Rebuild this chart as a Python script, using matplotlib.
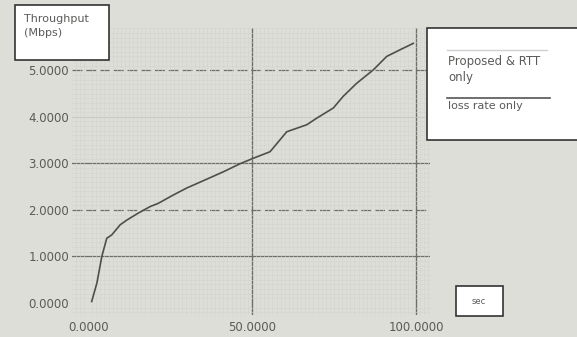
import matplotlib.pyplot as plt
from matplotlib.patches import Rectangle
from matplotlib.lines import Line2D
from matplotlib.ticker import MultipleLocator

# throughput curve (sec, Mbps)
time_sec = [1.1, 2.7, 4.2, 5.7, 7.2, 9.8, 11.8, 15.3, 18.9, 21.4, 26.0, 30.1,
            36.2, 41.3, 46.3, 50.4, 55.5, 60.6, 66.7, 69.7, 74.8, 77.8, 81.9,
            87.0, 91.1, 95.1, 99.2]
throughput = [0.03, 0.43, 1.00, 1.39, 1.46, 1.68, 1.78, 1.93, 2.07, 2.14, 2.32,
              2.47, 2.66, 2.82, 2.99, 3.11, 3.25, 3.68, 3.83, 3.97, 4.19, 4.44,
              4.72, 5.01, 5.30, 5.44, 5.58]

x_ticks = [0, 50, 100]
y_ticks = [0, 1, 2, 3, 4, 5]

bg = '#deded8'
grid_col = '#6e6e6a'
text_col = '#5a5a58'

plt.rcParams['font.family'] = ['DejaVu Sans']
fig = plt.figure(figsize=(5.77, 3.37), dpi=100, facecolor=bg)
ax = fig.add_axes([0.1248, 0.0653, 0.6205, 0.8516], facecolor=bg)

ax.set_xlim(-4.9, 104.3)
ax.set_ylim(-0.26, 5.91)
for s in ax.spines.values():
    s.set_visible(False)

# faint paper texture
ax.xaxis.set_minor_locator(MultipleLocator(1.25))
ax.yaxis.set_minor_locator(MultipleLocator(0.1))
ax.grid(which='minor', color='#d4d4ce', lw=0.4)

# major grid
for v in [50, 100]:
    ax.axvline(v, color=grid_col, lw=1.0, zorder=1)
for v in [1, 3]:
    ax.axhline(v, color=grid_col, lw=0.9, zorder=1)
for v in [2, 5]:
    ax.axhline(v, color=grid_col, lw=0.9, ls=(0, (8, 3)), zorder=1)
ax.axhline(4, color='#c4c4be', lw=0.6, zorder=1)

ax.plot(time_sec, throughput, color='#4e4e4c', lw=1.2, zorder=3)

ax.set_xticks(x_ticks)
ax.set_xticklabels(['%.4f' % v for v in x_ticks])
ax.set_yticks(y_ticks)
ax.set_yticklabels(['%.4f' % v for v in y_ticks])
ax.tick_params(which='both', length=0, colors=text_col, labelsize=8.5)
ax.tick_params(axis='y', pad=2)
ax.tick_params(axis='x', pad=4)

# y-axis title box
fig.add_artist(Rectangle((15 / 577, 1 - 60 / 337), 94 / 577, 55 / 337,
                         transform=fig.transFigure, facecolor='white',
                         edgecolor='#333333', lw=1.2))
fig.text(24 / 577, 1 - 19 / 337, 'Throughput', fontsize=8,
         color=text_col, va='center', ha='left')
fig.text(24 / 577, 1 - 33 / 337, '(Mbps)', fontsize=8,
         color=text_col, va='center', ha='left')

# legend box
fig.add_artist(Rectangle((427 / 577, 1 - 140 / 337), 160 / 577, 112 / 337,
                         transform=fig.transFigure, facecolor='white',
                         edgecolor='#333333', lw=1.2))
fig.add_artist(Line2D([447 / 577, 547 / 577], [1 - 50 / 337, 1 - 50 / 337],
                      transform=fig.transFigure, color='#d0d0d0', lw=1.0))
fig.text(448 / 577, 1 - 62 / 337, 'Proposed & RTT', fontsize=8.5,
         color=text_col, va='center', ha='left')
fig.text(448 / 577, 1 - 77 / 337, 'only', fontsize=8.5,
         color=text_col, va='center', ha='left')
fig.add_artist(Line2D([447 / 577, 550 / 577], [1 - 98 / 337, 1 - 98 / 337],
                      transform=fig.transFigure, color='#555555', lw=1.2))
fig.text(448 / 577, 1 - 106 / 337, 'loss rate only', fontsize=8,
         color=text_col, va='center', ha='left')

# x-axis title box
fig.add_artist(Rectangle((456 / 577, 1 - 316 / 337), 47 / 577, 30 / 337,
                         transform=fig.transFigure, facecolor='white',
                         edgecolor='#333333', lw=1.2))
fig.text(479 / 577, 1 - 301 / 337, 'sec', fontsize=6, color=text_col,
         va='center', ha='center')

fig.savefig('out.png', dpi=100, facecolor=bg)
